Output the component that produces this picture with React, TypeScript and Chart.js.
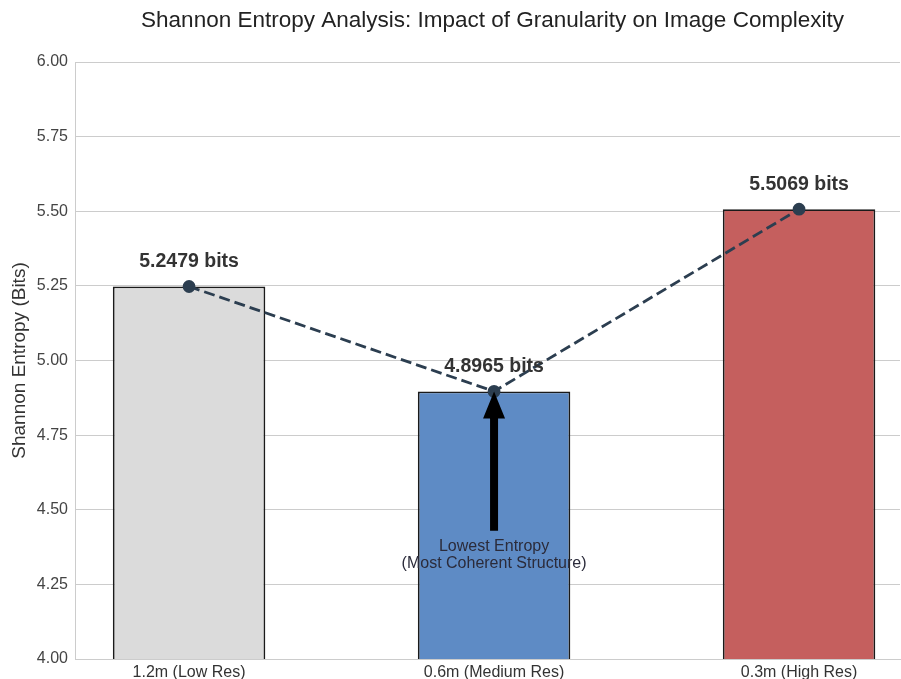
import React, { useEffect, useRef } from "react";
import { Chart, registerables } from "chart.js";

Chart.register(...registerables);

const titleText = "Shannon Entropy Analysis: Impact of Granularity on Image Complexity";
const categories = ["1.2m (Low Res)", "0.6m (Medium Res)", "0.3m (High Res)"];
const entropyValues = [5.2479, 4.8965, 5.5069];
const barColors = ["#dbdbdb", "#5e8bc5", "#c55f5e"];
const valueLabels = ["5.2479 bits", "4.8965 bits", "5.5069 bits"];
const yTicks = [4.0, 4.25, 4.5, 4.75, 5.0, 5.25, 5.5, 5.75, 6.0];
const annotationLines = ["Lowest Entropy", "(Most Coherent Structure)"];
const arrowFromValue = 4.43;
const arrowIndex = 1;
const annotationTextValue = 4.347;

const FONT = "'Liberation Sans', Arial, sans-serif";

const overlayPlugin = {
  id: "overlay",
  afterDatasetDraw(chart: any, args: any) {
    if (args.index !== 0) return;
    const ctx = chart.ctx;
    const x = chart.scales.x;
    const y = chart.scales.y;
    const ax = x.getPixelForValue(arrowIndex);
    const y0 = y.getPixelForValue(arrowFromValue);
    const y1 = y.getPixelForValue(entropyValues[arrowIndex]);
    ctx.save();
    ctx.fillStyle = "#000";
    const headLen = 27;
    const headHalf = 11;
    const shaftHalf = 4;
    ctx.beginPath();
    ctx.moveTo(ax - shaftHalf, y0);
    ctx.lineTo(ax - shaftHalf, y1 + headLen);
    ctx.lineTo(ax - headHalf, y1 + headLen);
    ctx.lineTo(ax, y1);
    ctx.lineTo(ax + headHalf, y1 + headLen);
    ctx.lineTo(ax + shaftHalf, y1 + headLen);
    ctx.lineTo(ax + shaftHalf, y0);
    ctx.closePath();
    ctx.fill();
    ctx.fillStyle = "#2b2b3a";
    ctx.font = `16px ${FONT}`;
    ctx.textAlign = "center";
    ctx.textBaseline = "middle";
    const ty = y.getPixelForValue(annotationTextValue);
    ctx.fillText(annotationLines[0], ax, ty - 8.5);
    ctx.fillText(annotationLines[1], ax, ty + 8.5);
    ctx.restore();
  },
  afterDatasetsDraw(chart: any) {
    const ctx = chart.ctx;
    const x = chart.scales.x;
    const y = chart.scales.y;
    ctx.save();
    ctx.fillStyle = "#333333";
    ctx.font = `bold 19.5px ${FONT}`;
    ctx.textAlign = "center";
    ctx.textBaseline = "middle";
    entropyValues.forEach((v, i) => {
      ctx.fillText(valueLabels[i], x.getPixelForValue(i), y.getPixelForValue(v) - 25);
    });
    ctx.restore();
  },
  afterDraw(chart: any) {
    const ctx = chart.ctx;
    const area = chart.chartArea;
    ctx.save();
    ctx.fillStyle = "#222222";
    ctx.font = `22.5px ${FONT}`;
    ctx.textAlign = "center";
    ctx.textBaseline = "middle";
    ctx.fillText(titleText, (area.left + area.right) / 2 + 5, 21);
    ctx.restore();
  },
};

export default function App() {
  const ref = useRef<HTMLCanvasElement | null>(null);
  useEffect(() => {
    if (!ref.current) return;
    const chart = new Chart(ref.current, {
      data: {
        datasets: [
          {
            type: "line",
            order: 0,
            data: entropyValues.map((v, i) => ({ x: i, y: v })),
            borderColor: "#2c3e50",
            borderWidth: 2.8,
            borderDash: [11, 5],
            pointRadius: 5,
            pointBackgroundColor: "#2c3e50",
            pointBorderColor: "#2c3e50",
            tension: 0,
          },
          {
            type: "bar",
            order: 1,
            data: entropyValues.map((v, i) => ({ x: i, y: v })),
            backgroundColor: barColors,
            borderColor: "#1a1a1a",
            borderWidth: 1.8,
            barPercentage: 0.5,
            categoryPercentage: 1.0,
          },
        ] as any,
      },
      options: {
        animation: false,
        responsive: false,
        layout: { autoPadding: false, padding: { left: 0, right: 1, top: 62, bottom: 0 } },
        plugins: {
          legend: { display: false },
          tooltip: { enabled: false },
          title: { display: false },
        },
        scales: {
          x: {
            type: "linear",
            offset: false,
            min: -0.374,
            max: 2.331,
            grid: { display: false, drawTicks: false, offset: false },
            border: { display: true, color: "#cccccc", width: 1 },
            afterBuildTicks: (s: any) => {
              s.ticks = categories.map((_, i) => ({ value: i }));
            },
            afterFit: (s: any) => {
              s.height = 20;
              s.paddingLeft = 0;
              s.paddingRight = 0;
            },
            ticks: {
              padding: 4,
              color: "#333333",
              font: { family: FONT, size: 16 },
              callback: (v: any) => categories[Number(v)] ?? "",
              maxRotation: 0,
              autoSkip: false,
            },
          },
          y: {
            type: "linear",
            min: 4,
            max: 6,
            afterBuildTicks: (s: any) => {
              s.ticks = yTicks.map((v) => ({ value: v }));
            },
            afterFit: (s: any) => {
              s.width = 75;
              s.paddingTop = 0;
              s.paddingBottom = 0;
            },
            grid: { color: "#cccccc", lineWidth: 1, drawTicks: false },
            border: { display: true, color: "#cccccc", width: 1 },
            ticks: {
              padding: 7,
              color: "#444444",
              font: { family: FONT, size: 16 },
              callback: (v: any) => Number(v).toFixed(2),
            },
            title: {
              display: true,
              text: "Shannon Entropy (Bits)",
              color: "#333333",
              font: { family: FONT, size: 19 },
              padding: { top: 8, bottom: 0 },
            },
          },
        },
      },
      plugins: [overlayPlugin],
    } as any);
    return () => chart.destroy();
  }, []);
  return (
    <div style={{ position: "fixed", left: 0, top: 0, width: 901, height: 679, background: "#fff" }}>
      <canvas ref={ref} width={901} height={679} style={{ display: "block" }} />
    </div>
  );
}
